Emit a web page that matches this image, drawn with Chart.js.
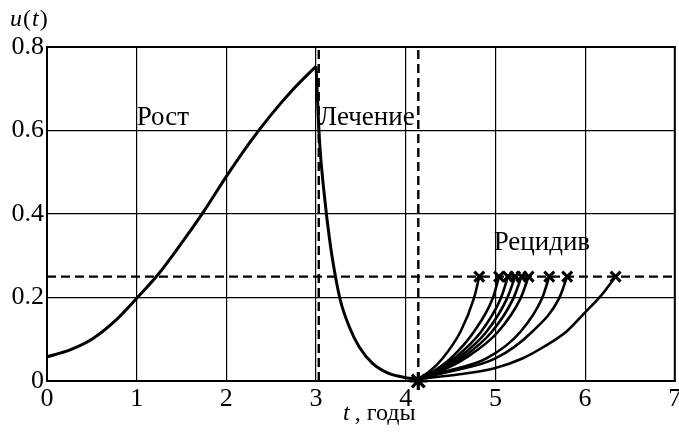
<!DOCTYPE html>
<html>
<head>
<meta charset="utf-8">
<script src="https://cdn.jsdelivr.net/npm/chart.js@4.4.1/dist/chart.umd.min.js"></script>
<style>
html,body{margin:0;padding:0;background:#fff;overflow:hidden;width:679px;height:443px;}
canvas{display:block;}
</style>
</head>
<body>
<canvas id="c" width="687" height="443"></canvas>
<script>
// ---- data ----
const growthT = [0, 0.25, 0.5, 0.75, 1.0, 1.25, 1.5, 1.75, 2.0, 2.25, 2.5, 2.75, 3.0];
const growthU = [0.058, 0.074, 0.100, 0.142, 0.198, 0.258, 0.330, 0.407, 0.490, 0.568, 0.638, 0.700, 0.754];

const treatT = [3.0, 3.04, 3.09, 3.15, 3.2, 3.27, 3.37, 3.48, 3.63, 3.81, 4.0, 4.14];
const treatU = [0.754, 0.57, 0.45, 0.34, 0.27, 0.194, 0.13, 0.082, 0.042, 0.018, 0.008, 0.005];

const relapseU = [0.005, 0.022, 0.054, 0.118, 0.198, 0.25];
const relapse1T = [4.14, 4.26, 4.41, 4.61, 4.76, 4.82];
const relapse2T = [4.14, 4.30, 4.50, 4.76, 4.97, 5.04];
const relapse3T = [4.14, 4.32, 4.54, 4.84, 5.06, 5.14];
const relapse4T = [4.14, 4.34, 4.58, 4.90, 5.13, 5.22];
const relapse5T = [4.14, 4.35, 4.62, 4.96, 5.20, 5.29];
const relapse6T = [4.14, 4.37, 4.66, 5.03, 5.28, 5.37];
const relapse7T = [4.14, 4.42, 4.90, 5.28, 5.52, 5.60];
const relapse8T = [4.14, 4.48, 5.00, 5.41, 5.71, 5.80];
const relapse9T = [4.14, 4.60, 4.98, 5.30, 5.54, 5.80, 5.99, 6.18, 6.34];
const relapse9U = [0.005, 0.016, 0.030, 0.054, 0.082, 0.12, 0.162, 0.205, 0.25];

const thresholdU = 0.25;
const treatStartT = 3.03;
const treatEndT = 4.14;

const xTickLabels = ['0','1','2','3','4','5','6','7'];
const yTickLabels = ['0','0.2','0.4','0.6','0.8'];

const phaseLabels = ['Рост', 'Лечение', 'Рецидив'];
const phaseLabelT = [1.0, 3.03, 4.98];
const phaseLabelU = [0.63, 0.63, 0.33];

// ---- build datasets ----
const zip = (xs, ys) => xs.map((x, i) => ({x: x, y: ys[i]}));
const lineDs = (pts, extra) => Object.assign({
  data: pts, showLine: true, borderColor: '#000', backgroundColor: '#000',
  borderWidth: 3, pointRadius: 0, cubicInterpolationMode: 'monotone', fill: false
}, extra || {});

const relapseSets = [
  zip(relapse1T, relapseU), zip(relapse2T, relapseU), zip(relapse3T, relapseU),
  zip(relapse4T, relapseU), zip(relapse5T, relapseU), zip(relapse6T, relapseU),
  zip(relapse7T, relapseU), zip(relapse8T, relapseU), zip(relapse9T, relapse9U)
];
const relapseEnds = relapseSets.map(s => s[s.length - 1]);

const dash = [9, 5];
const straight = {borderDash: dash, borderWidth: 2.4, cubicInterpolationMode: 'default', tension: 0};
const datasets = [
  lineDs([{x: 0, y: thresholdU}, {x: 7, y: thresholdU}], straight),
  lineDs([{x: treatStartT, y: 0}, {x: treatStartT, y: 0.8}], straight),
  lineDs([{x: treatEndT, y: 0}, {x: treatEndT, y: 0.8}], straight),
  lineDs(zip(growthT, growthU)),
  lineDs(zip(treatT, treatU))
];
relapseSets.forEach(s => datasets.push(lineDs(s, {borderWidth: 2.6})));
datasets.push({
  data: relapseEnds, showLine: false, pointStyle: 'crossRot', pointRadius: 7,
  borderColor: '#000', borderWidth: 3, clip: false
});
datasets.push({
  data: [{x: treatEndT, y: 0}], showLine: false, pointStyle: 'star', pointRadius: 9,
  borderColor: '#000', borderWidth: 3.2, clip: false
});

const SERIF = '"Liberation Serif", "DejaVu Serif", serif';

const decor = {
  id: 'decor',
  beforeDraw(chart) {
    const ctx = chart.ctx;
    ctx.save();
    ctx.fillStyle = '#fff';
    ctx.fillRect(0, 0, chart.width, chart.height);
    ctx.restore();
  },
  afterDraw(chart) {
    const ctx = chart.ctx;
    const a = chart.chartArea;
    const xs = chart.scales.x, ys = chart.scales.y;
    ctx.save();
    ctx.strokeStyle = '#000';
    ctx.lineWidth = 2;
    ctx.strokeRect(a.left, a.top, a.right - a.left, a.bottom - a.top);
    ctx.fillStyle = '#000';
    ctx.textBaseline = 'middle';
    ctx.textAlign = 'left';
    ctx.font = '27px ' + SERIF;
    phaseLabels.forEach((txt, i) => {
      ctx.fillText(txt, xs.getPixelForValue(phaseLabelT[i]), ys.getPixelForValue(phaseLabelU[i]));
    });
    // axis title t , годы
    ctx.textBaseline = 'alphabetic';
    let x = 343, y = 420;
    ctx.font = 'italic 24px ' + SERIF;
    ctx.fillText('t', x, y);
    x += ctx.measureText('t').width + 5;
    ctx.font = '24px ' + SERIF;
    ctx.fillText(', годы', x, y);
    // u(t)
    x = 10; y = 26;
    const parts = [['u', true], ['(', false], ['t', true], [')', false]];
    parts.forEach(p => {
      ctx.font = (p[1] ? 'italic ' : '') + '24px ' + SERIF;
      ctx.fillText(p[0], x, y);
      x += ctx.measureText(p[0]).width + 1;
    });
    ctx.restore();
  }
};

new Chart(document.getElementById('c'), {
  type: 'scatter',
  data: {datasets: datasets},
  options: {
    responsive: false,
    animation: false,
    events: [],
    layout: {padding: {top: 47, right: 4, left: 0, bottom: 0}},
    plugins: {legend: {display: false}, tooltip: {enabled: false}},
    scales: {
      x: {
        type: 'linear', min: 0, max: 7,
        afterFit(s) { s.height = 62; },
        ticks: {
          stepSize: 1, color: '#000', padding: 3, maxRotation: 0, autoSkip: false,
          font: {family: SERIF, size: 26},
          callback: (v) => xTickLabels[Math.round(v)]
        },
        grid: {color: '#000', lineWidth: 1.2, drawTicks: false},
        border: {color: '#000', width: 2}
      },
      y: {
        type: 'linear', min: 0, max: 0.8,
        afterFit(s) { s.width = 47; },
        ticks: {
          stepSize: 0.2, color: '#000', padding: 3,
          font: {family: SERIF, size: 26},
          callback: (v) => yTickLabels[Math.round(v / 0.2)]
        },
        grid: {color: '#000', lineWidth: 1.2, drawTicks: false},
        border: {color: '#000', width: 2}
      }
    }
  },
  plugins: [decor]
});
</script>
</body>
</html>
